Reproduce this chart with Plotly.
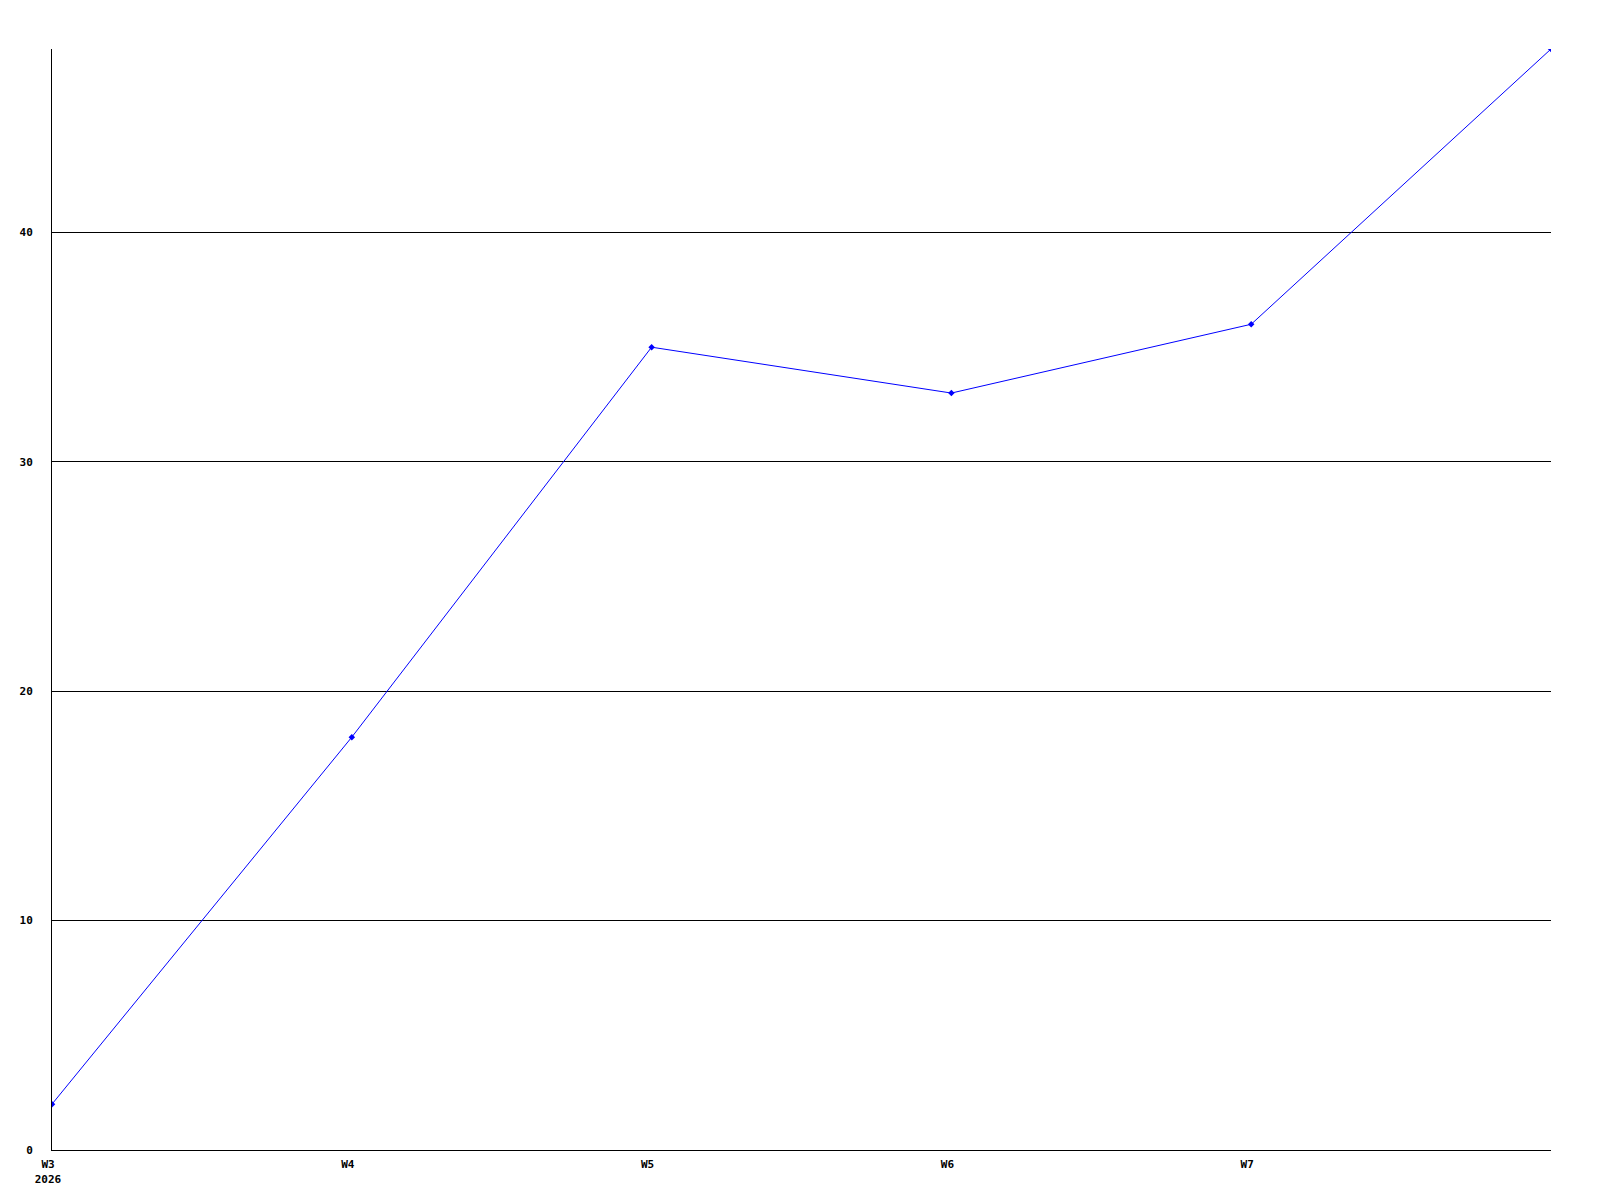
import plotly.graph_objects as go

# ---------- data ----------
weeks = ['W3', 'W4', 'W5', 'W6', 'W7', 'W8']
values = [2, 18, 35, 33, 36, 48]
tick_weeks = ['W3', 'W4', 'W5', 'W6', 'W7']
tick_text = ['W3<br>2026', 'W4', 'W5', 'W6', 'W7']
y_ticks = [0, 10, 20, 30, 40]

# ---------- plot ----------
fig = go.Figure()
fig.add_trace(go.Scatter(
    x=weeks, y=values,
    mode='lines+markers',
    line=dict(color='#0000ff', width=1),
    marker=dict(color='#0000ff', size=5, symbol='diamond'),
    showlegend=False,
))

tick_font = dict(family='DejaVu Sans Mono', size=11, color='black', weight='bold')

# page body has an 8px margin, so the figure is a bit smaller and shifted
fig.update_layout(
    width=1584, height=1190,
    paper_bgcolor='white', plot_bgcolor='white',
    margin=dict(l=42, r=41, t=41, b=43),
    xaxis=dict(
        type='category',
        range=[0, 5],
        tickmode='array', tickvals=tick_weeks, ticktext=tick_text,
        showgrid=False, zeroline=False,
        showline=True, linecolor='black', linewidth=1,
        ticks='', tickfont=tick_font, ticklabelstandoff=4, ticklabelshift=-4,
    ),
    yaxis=dict(
        range=[0, 48],
        tickmode='array', tickvals=y_ticks,
        showgrid=True, gridcolor='black', gridwidth=1,
        zeroline=False,
        showline=True, linecolor='black', linewidth=1,
        ticks='', tickfont=tick_font, ticklabelstandoff=16,
    ),
)

fig.write_html("out.html")
